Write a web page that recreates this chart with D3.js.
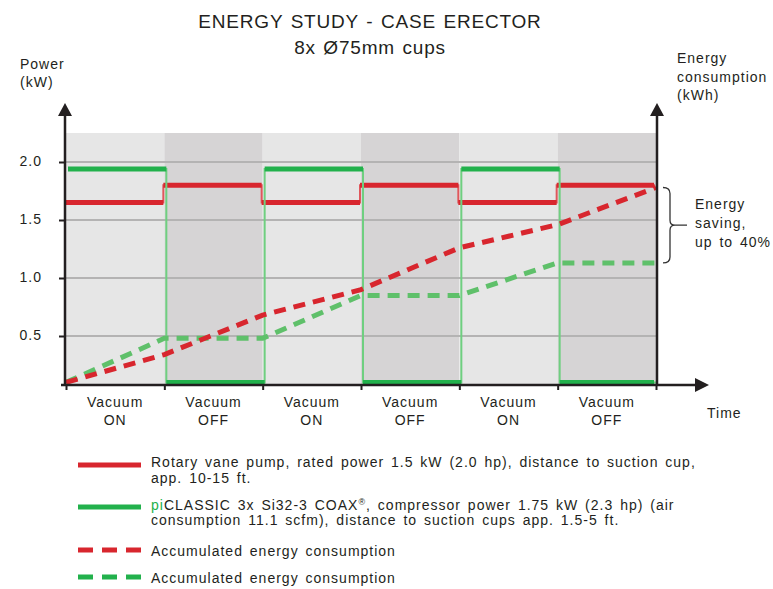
<!DOCTYPE html>
<html>
<head>
<meta charset="utf-8">
<script src="https://cdn.jsdelivr.net/npm/d3@7"></script>
<style>
  body { margin: 0; background: #ffffff; }
  text { font-family: "Liberation Sans", Arial, sans-serif; fill: #231f20; font-size: 14px; letter-spacing: 1px; word-spacing: 2px; }
  text.title { font-size: 19px; letter-spacing: 0.8px; word-spacing: 1.5px; }
</style>
</head>
<body>
<svg id="chart" width="773" height="589"></svg>
<script>
// phases of the cycle
const phases = ["ON", "OFF", "ON", "OFF", "ON", "OFF"];
const yTicks = [0.5, 1.0, 1.5, 2.0];
// power (kW) per phase
const pumpPower = [1.65, 1.80, 1.65, 1.80, 1.65, 1.80];
const piPower = [1.94, 0.10, 1.94, 0.10, 1.94, 0.10];
// accumulated energy at each phase boundary
const pumpEnergy = [0.10, 0.34, 0.68, 0.90, 1.26, 1.46, 1.78];
const piEnergy = [0.10, 0.48, 0.48, 0.85, 0.85, 1.13, 1.13];

const red = '#d8262e';
const green = '#22b14c';

let svg = d3.select("#chart");

let x = d3.scaleLinear().domain([0, phases.length]).range([66, 656]);
let y = d3.scaleLinear().domain([0, 2]).range([394, 162]);
let plotTop = 133, plotBottom = 385;

//title
svg.append('text').attr('class', 'title').attr('x', 370).attr('y', 28).attr('text-anchor', 'middle')
    .text('ENERGY STUDY - CASE ERECTOR');
svg.append('text').attr('class', 'title').attr('x', 370).attr('y', 54).attr('text-anchor', 'middle')
    .text('8x Ø75mm cups');

//background bands
svg.append('g').selectAll('rect')
    .data(phases)
    .enter()
    .append('rect')
    .attr('x', (d, i) => x(i))
    .attr('y', plotTop)
    .attr('width', x(1) - x(0))
    .attr('height', plotBottom - plotTop)
    .attr('fill', d => d == 'ON' ? '#e6e6e6' : '#d6d4d5');

//horizontal grid
svg.append('g').selectAll('line')
    .data(yTicks)
    .enter()
    .append('line')
    .attr('x1', x(0)).attr('x2', x(phases.length))
    .attr('y1', d => y(d)).attr('y2', d => y(d))
    .attr('stroke', '#b4b3b3')
    .attr('stroke-width', 2);

//step lines for power
function stepPts(vals) {
    let pts = vals.map((v, i) => [i, v]);
    pts.push([vals.length, vals[vals.length - 1]]);
    return pts;
}
let stepLine = d3.line().x(d => x(d[0])).y(d => y(d[1])).curve(d3.curveStepAfter);

function drawPower(vals, colour, thin, shift) {
    let g = svg.append('g').attr('transform', `translate(${shift}, 0)`);
    g.append('path')
        .attr('d', stepLine(stepPts(vals)))
        .attr('fill', 'none')
        .attr('stroke', thin)
        .attr('stroke-width', 2);
    g.selectAll('line')
        .data(vals)
        .enter()
        .append('line')
        .attr('x1', (d, i) => x(i)).attr('x2', (d, i) => x(i + 1) - (i == vals.length - 1 ? shift + 2 : 0))
        .attr('y1', d => y(d)).attr('y2', d => y(d))
        .attr('stroke', colour)
        .attr('stroke-width', 5);
}
drawPower(pumpPower, red, '#e0575c', -1);
drawPower(piPower, green, '#6fcf80', 2);

//accumulated energy
let energyLine = d3.line().x((d, i) => x(i)).y(d => y(d));
svg.append('path')
    .attr('d', energyLine(piEnergy))
    .attr('fill', 'none')
    .attr('stroke', '#5fc06a')
    .attr('stroke-width', 5)
    .attr('stroke-dasharray', '12,8');
svg.append('path')
    .attr('d', energyLine(pumpEnergy))
    .attr('fill', 'none')
    .attr('stroke', red)
    .attr('stroke-width', 5)
    .attr('stroke-dasharray', '12,8');

//axes
let axisColour = '#231f20';
let leftAxis = svg.append('g')
    .attr('transform', `translate(${x(0) - 1}, 0)`)
    .call(d3.axisLeft(y).tickValues(yTicks).tickSize(6).tickPadding(17).tickFormat(d3.format('.1f')));
leftAxis.select('.domain').remove();
leftAxis.selectAll('line').attr('stroke', axisColour).attr('stroke-width', 2);
leftAxis.selectAll('text').attr('font-family', null).attr('font-size', null).attr('fill', null).attr('dy', '0.22em');

let bottomAxis = svg.append('g')
    .attr('transform', `translate(0, ${plotBottom})`)
    .call(d3.axisBottom(x).tickValues(d3.range(phases.length + 1)).tickSize(5).tickFormat(''));
bottomAxis.select('.domain').remove();
bottomAxis.selectAll('line').attr('stroke', axisColour).attr('stroke-width', 2);

// axis lines with arrows
svg.append('line').attr('x1', x(0) - 1).attr('x2', x(0) - 1).attr('y1', plotBottom + 1).attr('y2', 112)
    .attr('stroke', axisColour).attr('stroke-width', 2.5);
svg.append('path').attr('d', `M${x(0) - 1},103 L${x(0) - 8},116 L${x(0) + 6},116 Z`).attr('fill', axisColour);
svg.append('line').attr('x1', x(6) + 1).attr('x2', x(6) + 1).attr('y1', plotBottom + 1).attr('y2', 112)
    .attr('stroke', axisColour).attr('stroke-width', 2.5);
svg.append('path').attr('d', `M${x(6) + 1},103 L${x(6) - 6},116 L${x(6) + 8},116 Z`).attr('fill', axisColour);
svg.append('line').attr('x1', x(0) - 5).attr('x2', 698).attr('y1', plotBottom).attr('y2', plotBottom)
    .attr('stroke', axisColour).attr('stroke-width', 2.5);
svg.append('path').attr('d', `M709,${plotBottom} L695,${plotBottom - 7} L695,${plotBottom + 7} Z`).attr('fill', axisColour);

//phase labels
let labels = svg.append('g').selectAll('text')
    .data(phases)
    .enter()
    .append('text')
    .attr('text-anchor', 'middle');
labels.append('tspan').attr('x', (d, i) => (x(i) + x(i + 1)) / 2).attr('y', 407).text('Vacuum');
labels.append('tspan').attr('x', (d, i) => (x(i) + x(i + 1)) / 2).attr('y', 425).text(d => d);

svg.append('text').attr('x', 707).attr('y', 418).text('Time');

//axis titles
svg.append('text').attr('x', 20).attr('y', 69).text('Power');
svg.append('text').attr('x', 20).attr('y', 87).text('(kW)');
svg.append('text').attr('x', 677).attr('y', 63).text('Energy');
svg.append('text').attr('x', 677).attr('y', 82).text('consumption');
svg.append('text').attr('x', 677).attr('y', 100).text('(kWh)');

//energy saving bracket
let bTop = y(pumpEnergy[pumpEnergy.length - 1]);
let bBot = y(piEnergy[piEnergy.length - 1]);
let bMid = (bTop + bBot) / 2;
svg.append('path')
    .attr('d', `M663,${bTop} Q670,${bTop} 670,${bTop + 6} L670,${bMid - 5} Q670,${bMid} 675,${bMid} L687,${bMid}` +
        ` M675,${bMid} Q670,${bMid} 670,${bMid + 5} L670,${bBot - 6} Q670,${bBot} 663,${bBot}`)
    .attr('fill', 'none')
    .attr('stroke', '#333')
    .attr('stroke-width', 1.3);
svg.append('text').attr('x', 695).attr('y', 209).text('Energy');
svg.append('text').attr('x', 695).attr('y', 228).text('saving,');
svg.append('text').attr('x', 695).attr('y', 247).text('up to 40%');

//legend
let lx1 = 78, lx2 = 141, tx = 151;
function legendLine(yy, colour, dash) {
    svg.append('line').attr('x1', lx1).attr('x2', lx2).attr('y1', yy).attr('y2', yy)
        .attr('stroke', colour).attr('stroke-width', 5)
        .attr('stroke-dasharray', dash);
}
legendLine(465, red, null);
svg.append('text').attr('x', tx).attr('y', 467)
    .text('Rotary vane pump, rated power 1.5 kW (2.0 hp), distance to suction cup,');
svg.append('text').attr('x', tx).attr('y', 483).text('app. 10-15 ft.');

legendLine(507, green, null);
let t2 = svg.append('text').attr('x', tx).attr('y', 510);
t2.append('tspan').style('fill', green).text('pi');
t2.append('tspan').text('CLASSIC 3x Si32-3 COAX');
t2.append('tspan').style('font-size', '9px').attr('dy', -5).text('®');
t2.append('tspan').attr('dy', 5).text(', compressor power 1.75 kW (2.3 hp) (air');
svg.append('text').attr('x', tx).attr('y', 525)
    .text('consumption 11.1 scfm), distance to suction cups app. 1.5-5 ft.');

legendLine(550, red, '15,9');
svg.append('text').attr('x', tx).attr('y', 556).text('Accumulated energy consumption');
legendLine(577, green, '15,9');
svg.append('text').attr('x', tx).attr('y', 583).text('Accumulated energy consumption');
</script>
</body>
</html>
